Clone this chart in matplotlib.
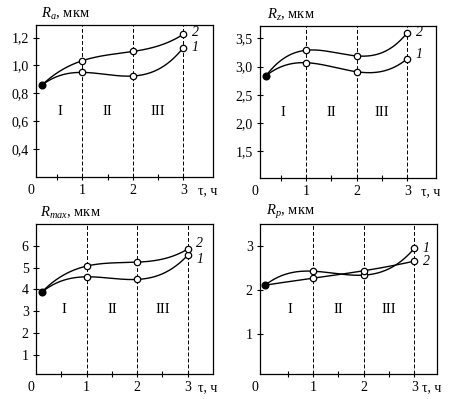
import matplotlib
matplotlib.use("Agg")
import matplotlib.pyplot as plt
import numpy as np

plt.rcParams['font.family'] = ['Liberation Serif', 'DejaVu Serif']
plt.rcParams['mathtext.fontset'] = 'custom'
plt.rcParams['mathtext.rm'] = 'Liberation Serif'
plt.rcParams['mathtext.it'] = 'Liberation Serif:italic'

# time points, h (first one is the initial state)
t_ra = [0.2, 1, 2, 3]
ra_1 = [0.86, 0.95, 0.924, 1.127]
ra_2 = [0.86, 1.034, 1.10, 1.223]

t_rz = [0.21, 1, 2, 3]
rz_1 = [2.84, 3.07, 2.91, 3.14]
rz_2 = [2.84, 3.29, 3.19, 3.60]

t_rmax = [0.11, 1, 2, 3]
rmax_1 = [3.87, 4.58, 4.46, 5.57]
rmax_2 = [3.87, 5.07, 5.25, 5.85]

t_rp = [0.05, 1, 2, 3]
rp_1 = [2.11, 2.43, 2.34, 2.95]
rp_2 = [2.11, 2.27, 2.44, 2.66]

ra_ticks = [0.4, 0.6, 0.8, 1.0, 1.2]
rz_ticks = [1.5, 2.0, 2.5, 3.0, 3.5]
rmax_ticks = [1, 2, 3, 4, 5, 6]
rp_ticks = [1, 2, 3]

stages = ['I', 'II', 'III']
stage_x = [0.55, 1.5, 2.5]

FS = 10


def smooth(x, y):
    c = np.polyfit(x, y, 3)
    xs = np.linspace(x[0], x[-1], 200)
    return xs, np.polyval(c, xs)


def panel(rect, title, t, s1, s2, yticks, ylim, xlim, ylab_x, lab_off, dec=True):
    ax = fig.add_axes(rect)
    for s in ax.spines.values():
        s.set_linewidth(0.9)
    for xv in [1, 2, 3]:
        ax.axvline(xv, color='black', lw=0.7, ls=(0, (4, 2.2)), zorder=1)

    for s in (s1, s2):
        xs, ys = smooth(t, s)
        ax.plot(xs, ys, color='black', lw=1.0, zorder=2)
        ax.plot(t[1:], s[1:], 'o', ms=4.6, mfc='white', mec='black', mew=0.9, zorder=3)
    ax.plot(t[0], s1[0], 'o', ms=4.8, color='black', zorder=3)

    ax.annotate('2', xy=(t[-1], s2[-1]), xytext=(6, lab_off[1]), textcoords='offset points',
                ha='left', va='center', fontsize=FS, style='italic')
    ax.annotate('1', xy=(t[-1], s1[-1]), xytext=(6, lab_off[0]), textcoords='offset points',
                ha='left', va='center', fontsize=FS, style='italic')

    for name, xv in zip(stages, stage_x):
        ax.text(xv, 0.43, name, transform=ax.get_xaxis_transform(),
                ha='center', va='center', fontsize=10.5)

    ax.set_xlim(*xlim)
    ax.set_ylim(*ylim)
    ax.set_xticks([0.5, 1, 1.5, 2, 2.5, 3])
    ax.set_xticklabels(['', '1', '', '2', '', '3'])
    ax.set_yticks(yticks)
    if dec:
        ax.set_yticklabels([('%.1f' % v).replace('.', ',') for v in yticks])
    else:
        ax.set_yticklabels([str(v) for v in yticks])
    ax.tick_params(direction='inout', length=4.5, width=0.8, pad=3, labelsize=FS)

    ax.text(ylab_x, 1.02, title, transform=ax.transAxes, ha='left', va='bottom', fontsize=10.5)
    ax.annotate('0', xy=(0, 0), xycoords='axes fraction', xytext=(-4, -5),
                textcoords='offset points', ha='center', va='top', fontsize=FS)
    ax.annotate('τ, ч', xy=(0.97, 0), xycoords='axes fraction', xytext=(0, -5),
                textcoords='offset points', ha='center', va='top', fontsize=FS)
    return ax


fig = plt.figure(figsize=(4.66, 3.99), dpi=100)

panel([0.0773, 0.5564, 0.3798, 0.381], '$R_a$, мкм', t_ra, ra_1, ra_2,
      ra_ticks, (0.2, 1.29), (0.08, 3.59), 0.03, (0, 1))
panel([0.558, 0.5539, 0.3777, 0.381], '$R_z$, мкм', t_rz, rz_1, rz_2,
      rz_ticks, (1.03, 3.72), (0.09, 3.57), 0.04, (3, 0))
panel([0.0773, 0.0627, 0.3798, 0.376], '$R_{max}$, мкм', t_rmax, rmax_1, rmax_2,
      rmax_ticks, (0.13, 7.0), (0.0, 3.5), 0.02, (-3, 4), dec=False)
panel([0.558, 0.0627, 0.3798, 0.376], '$R_p$, мкм', t_rp, rp_1, rp_2,
      rp_ticks, (0.08, 3.51), (-0.05, 3.45), 0.035, (0, 0), dec=False)

fig.savefig('out.png', dpi=100)
